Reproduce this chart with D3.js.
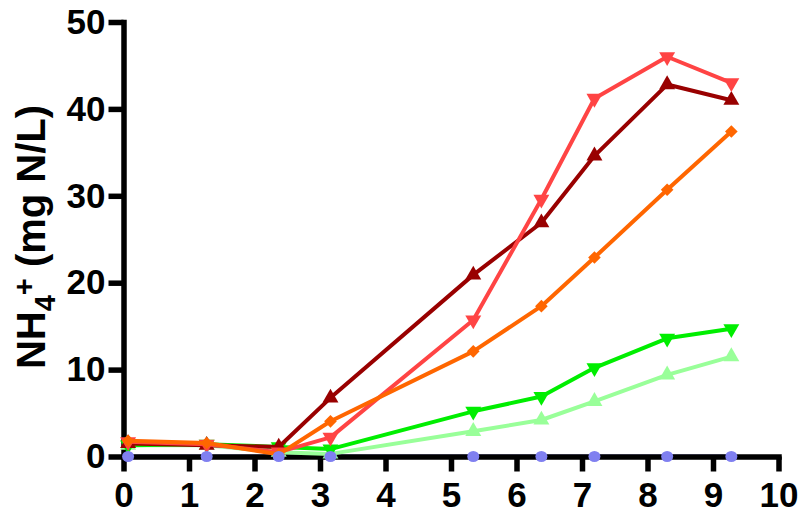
<!DOCTYPE html>
<html><head><meta charset="utf-8">
<script src="https://cdn.jsdelivr.net/npm/d3@7"></script>
<style>body{margin:0;background:#fff}svg{display:block}</style>
</head><body>
<svg id="c" width="802" height="515"></svg>
<script>
const xVals = [0.07, 1.27, 2.37, 3.16, 5.34, 6.38, 7.19, 8.30, 9.28];
const darkRed   = [1.5, 1.3, 1.1, 6.75, 20.9, 26.9, 34.6, 42.8, 41.0];
const lightRed  = [1.7, 1.4, 0.5, 2.2, 15.7, 29.6, 41.2, 46.0, 43.0];
const orange    = [1.8, 1.55, 0.25, 4.05, 12.1, 17.3, 22.9, 30.7, 37.4];
const green     = [1.3, 1.4, 1.1, 0.85, 5.2, 6.9, 10.2, 13.6, 14.7];
const lightGreen= [1.3, 1.3, 0.5, 0.3, 2.9, 4.2, 6.35, 9.4, 11.5];
const blue      = [0, 0, 0, 0, 0, 0, 0, 0, 0];
const xTicks = [0,1,2,3,4,5,6,7,8,9,10];
const yTicks = [0,10,20,30,40,50];

const series = [
  {name:"lightGreen", values: lightGreen, color:"#99ff99", shape:"up"},
  {name:"green", values: green, color:"#00ee00", shape:"down"},
  {name:"darkRed", values: darkRed, color:"#990000", shape:"up"},
  {name:"lightRed", values: lightRed, color:"#ff4444", shape:"down"},
  {name:"orange", values: orange, color:"#ff6600", shape:"diamond"}
];

const svg = d3.select("#c");
const x = d3.scaleLinear().domain([0,10]).range([123.5, 778.5]);
const y = d3.scaleLinear().domain([0,50]).range([456.5, 22]);
const font = "'Liberation Sans', Arial, sans-serif";

// blue line under axis
const line = d3.line().x((d,i)=>x(xVals[i])).y(d=>y(d));
svg.append("path").datum(blue).attr("d", line).attr("fill","none")
  .attr("stroke","#8080f0").attr("stroke-width",4);

// axes
const gx = svg.append("g").attr("transform",`translate(0,${y(0)})`)
  .call(d3.axisBottom(x).tickValues(xTicks).tickFormat(d3.format("d")).tickSize(15).tickSizeOuter(0).tickPadding(11));
const gy = svg.append("g").attr("transform",`translate(${x(0)},0)`)
  .call(d3.axisLeft(y).tickValues(yTicks).tickFormat(d3.format("d")).tickSize(15).tickSizeOuter(0).tickPadding(3));
[gx,gy].forEach(g=>{
  g.select(".domain").attr("stroke","#000").attr("stroke-width",5.5).attr("stroke-linecap","square");
  g.selectAll(".tick line").attr("stroke","#000").attr("stroke-width",5.5).attr("stroke-linecap","butt");
  g.selectAll(".tick text").attr("fill","#000").style("font-family",font)
    .style("font-weight","bold").style("font-size","35px");
});

// series
const sym = {
  up: d3.symbol().type(d3.symbolTriangle).size(110),
  diamond: d3.symbol().type(d3.symbolSquare).size(80)
};
series.forEach(s=>{
  svg.append("path").datum(s.values).attr("d", line).attr("fill","none")
    .attr("stroke", s.color).attr("stroke-width",4).attr("stroke-linejoin","round");
  svg.selectAll(null).data(s.values).enter().append("path")
    .attr("d", s.shape==="diamond" ? sym.diamond() : sym.up())
    .attr("transform",(d,i)=>{
      let t = `translate(${x(xVals[i])},${y(d)})`;
      if (s.shape==="down") t += " rotate(180)";
      if (s.shape==="diamond") t += " rotate(45)";
      return t;
    })
    .attr("fill", s.color);
});

// blue markers on top of axis
svg.selectAll(null).data(blue).enter().append("ellipse")
  .attr("cx",(d,i)=>x(xVals[i])).attr("cy",d=>y(d))
  .attr("rx",6).attr("ry",5.5).attr("fill","#8080f0");

// y title
const t = svg.append("text").attr("transform","translate(45,237) rotate(-90)")
  .attr("text-anchor","middle").style("font-family",font).style("font-weight","bold")
  .style("font-size","40px").attr("fill","#000");
t.append("tspan").text("NH");
t.append("tspan").attr("dy",10).style("font-size","29px").text("4");
t.append("tspan").attr("dy",-21).style("font-size","29px").text("+");
t.append("tspan").attr("dy",11).text(" (mg N/L)");
</script>
</body></html>
